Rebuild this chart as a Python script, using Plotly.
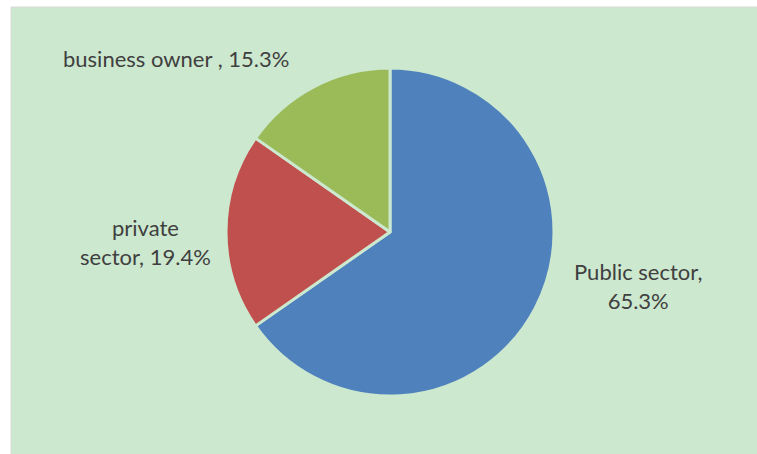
import plotly.graph_objects as go

labels = ["Public sector", "private sector", "business owner "]
values = [65.3, 19.4, 15.3]
colors = ["#4F81BD", "#C0504D", "#9BBB59"]
label_text = ["Public sector,<br>65.3%", "private<br>sector, 19.4%", "business owner , 15.3%"]
label_pos = [(638, 286), (145, 242), (176, 58)]

W, H = 757, 454
BG = "#CCE8CF"

fig = go.Figure()
fig.add_trace(go.Pie(
    labels=labels, values=values, sort=False, direction="clockwise", rotation=0,
    marker=dict(colors=colors, line=dict(color=BG, width=3)),
    textinfo="none", hoverinfo="label+percent", showlegend=False,
    domain=dict(x=[226 / W, 554 / W], y=[1 - 397 / H, 1 - 67 / H]),
))

shapes = [dict(type="rect", xref="paper", yref="paper", x0=11 / W, x1=1.01, y0=-0.01, y1=1 - 7 / H,
               fillcolor=BG, line=dict(color="#D9D9D9", width=1), layer="below")]
annotations = []
for t, (x, y) in zip(label_text, label_pos):
    annotations.append(dict(text=t, x=x / W, y=1 - y / H, xref="paper", yref="paper",
                            showarrow=False, xanchor="center", yanchor="middle",
                            font=dict(family="Lato", size=22, color="#404040"), align="center"))

fig.update_layout(width=W, height=H, margin=dict(l=0, r=0, t=0, b=0),
                  paper_bgcolor="white", plot_bgcolor="white",
                  shapes=shapes, annotations=annotations)
fig.write_html("out.html")
